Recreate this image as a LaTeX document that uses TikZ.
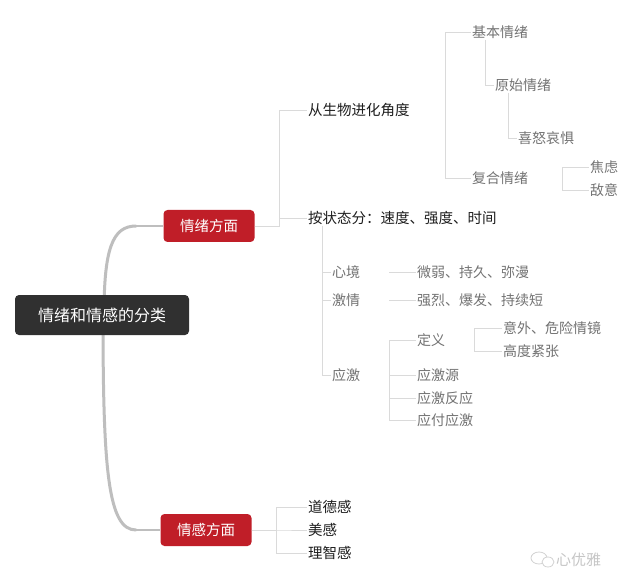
\documentclass[tikz,border=0pt]{standalone}
\usepackage{fontspec}
\newfontfamily\cjk{Noto Sans CJK SC}
\usetikzlibrary{positioning}
\definecolor{MapRed}{RGB}{192,30,40}
\definecolor{MapDark}{RGB}{48,48,48}
\definecolor{MapLine}{RGB}{218,218,218}
\definecolor{MapTrunk}{RGB}{190,190,190}
\definecolor{MapText}{RGB}{30,30,30}
\definecolor{MapGray}{RGB}{115,115,115}
\tikzset{
  rootbox/.style={fill=MapDark,text=white,rounded corners=4pt,minimum width=174pt,minimum height=40pt,font=\cjk\fontsize{16}{18}\selectfont},
  mainbox/.style={fill=MapRed,text=white,rounded corners=4pt,minimum width=91pt,minimum height=32pt,font=\cjk\fontsize{14.5}{16}\selectfont},
  subtxt/.style={anchor=west,inner sep=1pt,text=MapText,font=\cjk\fontsize{14.5}{16}\selectfont},
  leaf/.style={anchor=west,inner sep=1pt,text=MapGray,font=\cjk\fontsize{14}{16}\selectfont},
  link/.style={draw=MapLine,line width=0.8pt},
  trunk/.style={draw=MapTrunk,line width=3pt,line cap=round},
}
\begin{document}
\begin{tikzpicture}[x=1pt,y=-1pt]
  \useasboundingbox[fill=white] (0,0) rectangle (640,588);
  % main branches
  \node[mainbox] (emo) at (209,226) {情绪方面};
  \node[mainbox] (feel) at (206,530) {情感方面};
  \coordinate (emoin) at (136,226);
  \coordinate (feelin) at (136,530);
  \draw[trunk] (104,315) .. controls (104,250) and (112,226) .. (emoin);
  \draw[trunk] (103,315) .. controls (103,470) and (108,530) .. (feelin);
  \draw[draw=MapTrunk,line width=1.2pt] (emoin) -- (emo.west);
  \draw[draw=MapTrunk,line width=1.2pt] (feelin) -- (feel.west);
  \node[rootbox] (root) at (102,315) {情绪和情感的分类};

  % emotion side
  \node[subtxt] (bio) at (307,110) {从生物进化角度};
  \node[subtxt] (state) at (307,218) {按状态分：速度、强度、时间};
  \draw[link] (emo.east) -- ++(25,0) |- (bio.west);
  \draw[link] (emo.east) -- ++(25,0) |- (state.west);

  \node[leaf] (basic) at (471,32) {基本情绪};
  \node[leaf] (complex) at (471,178) {复合情绪};
  \coordinate (bioj) at (445,110);
  \draw[link] (bioj) |- (basic.west);
  \draw[link] (bioj) |- (complex.west);

  \node[leaf] (orig) at (494,85) {原始情绪};
  \node[leaf] (joy) at (517,138) {喜怒哀惧};
  \draw[link] ([xshift=14pt]basic.south west) |- (orig.west);
  \draw[link] ([xshift=14pt]orig.south west) |- (joy.west);

  \node[leaf] (anx) at (589,167) {焦虑};
  \node[leaf] (hos) at (589,190) {敌意};
  \coordinate (cpj) at (562,178);
  \draw[link] (cpj) |- (anx.west);
  \draw[link] (cpj) |- (hos.west);

  \node[leaf] (mood) at (331,272) {心境};
  \node[leaf] (pass) at (331,300) {激情};
  \node[leaf] (stress) at (331,375) {应激};
  \draw[link] ([xshift=15pt]state.south west) |- (mood.west);
  \draw[link] ([xshift=15pt]state.south west) |- (pass.west);
  \draw[link] ([xshift=15pt]state.south west) |- (stress.west);

  \node[leaf] (moodd) at (416,272) {微弱、持久、弥漫};
  \node[leaf] (passd) at (416,300) {强烈、爆发、持续短};
  \draw[link] ([xshift=28pt]mood.east) -- (moodd.west);
  \draw[link] ([xshift=28pt]pass.east) -- (passd.west);

  \node[leaf] (def) at (416,340) {定义};
  \node[leaf] (src) at (416,375) {应激源};
  \node[leaf] (resp) at (416,398) {应激反应};
  \node[leaf] (cope) at (416,420) {应付应激};
  \coordinate (stj) at (389,375);
  \foreach \n in {def,src,resp,cope}
    \draw[link] (stj) |- (\n.west);

  \node[leaf] (acc) at (502,328) {意外、危险情镜};
  \node[leaf] (tense) at (502,351) {高度紧张};
  \coordinate (dfj) at (474,340);
  \draw[link] (dfj) |- (acc.west);
  \draw[link] (dfj) |- (tense.west);

  % feeling side
  \node[subtxt] (moral) at (307,507) {道德感};
  \node[subtxt] (beauty) at (307,530) {美感};
  \node[subtxt] (intel) at (307,553) {理智感};
  \foreach \n in {moral,beauty,intel}
    \draw[link] (feel.east) -- ++(25,0) |- (\n.west);

  % watermark
  \draw[gray!35,line width=0.8pt] (539,558) ellipse [x radius=8pt,y radius=6pt];
  \draw[gray!35,line width=0.8pt,fill=white] (548,562) ellipse [x radius=6pt,y radius=5pt];
  \node[anchor=west,inner sep=0pt,text=gray!45,font=\cjk\fontsize{15}{16}\selectfont] (mark) at (556,560) {心优雅};
\end{tikzpicture}
\end{document}
